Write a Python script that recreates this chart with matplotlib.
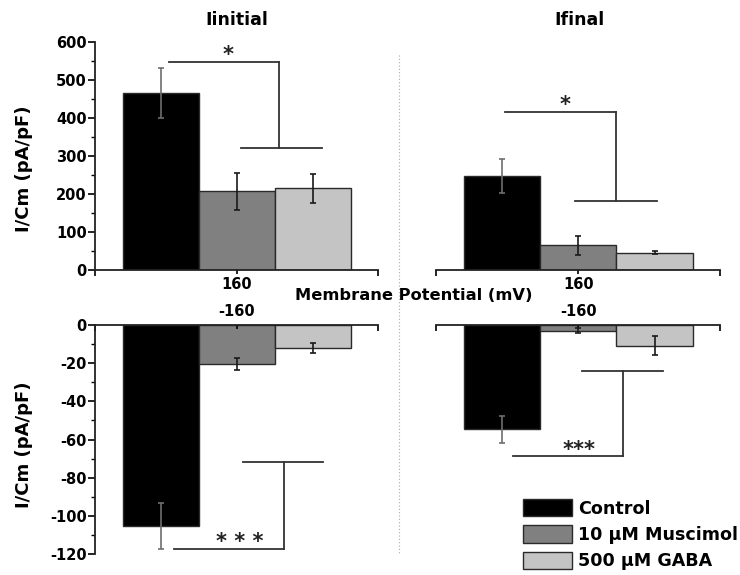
import matplotlib
matplotlib.use("Agg")
import matplotlib.pyplot as plt
from matplotlib.lines import Line2D
from matplotlib.ticker import MultipleLocator, FixedLocator

plt.rcParams['font.family'] = ['DejaVu Sans']
plt.rcParams['font.weight'] = 'bold'
plt.rcParams['axes.unicode_minus'] = False

# Daten
gruppen = ["Control", "10 \u03bcM Muscimol", "500 \u03bcM GABA"]
farben = ["#000000", "#808080", "#c4c4c4"]
fehlerfarben = ["#6e6e6e", "#1a1a1a", "#1a1a1a"]

initial_pos = [466, 207, 215]
initial_pos_err = [65, 48, 38]
final_pos = [247, 65, 46]
final_pos_err = [45, 25, 5]

initial_neg = [-105.2, -20.5, -12.2]
initial_neg_err = [12, 3.1, 2.6]
final_neg = [-54.7, -3.0, -10.8]
final_neg_err = [7.2, 1.2, 5.0]

W, H = 740, 575
fig = plt.figure(figsize=(7.4, 5.75), dpi=100)

def ax_px(l, t, r, b):
    return fig.add_axes([l / W, 1 - b / H, (r - l) / W, (b - t) / H])

xlim = (-0.87, 2.86)
x = [0, 1, 2]

ax_tl = ax_px(95, 42, 378, 270)
ax_tr = ax_px(436, 42, 720, 270)
ax_bl = ax_px(95, 325, 378, 554)
ax_br = ax_px(436, 325, 720, 554)

def balken(ax, werte, fehler):
    bars = ax.bar(x, werte, width=1.0, color=farben, edgecolor="#2a2a2a", linewidth=1.0)
    for xi, v, e, c in zip(x, werte, fehler, fehlerfarben):
        ax.errorbar(xi, v, yerr=e, fmt='none', ecolor=c, elinewidth=1.2, capsize=2.5, capthick=1.2)
    ax.set_xlim(*xlim)
    return bars

bars = balken(ax_tl, initial_pos, initial_pos_err)
balken(ax_tr, final_pos, final_pos_err)
balken(ax_bl, initial_neg, initial_neg_err)
balken(ax_br, final_neg, final_neg_err)

for ax in (ax_tl, ax_tr):
    ax.set_ylim(0, 600)
    for s in ("top", "right"):
        ax.spines[s].set_visible(False)
    ax.tick_params(axis='x', which='major', direction='out', length=3, width=1.2, labelsize=10.5, pad=2)
    ax.tick_params(axis='x', which='minor', direction='out', length=4, width=1.2)
for ax in (ax_bl, ax_br):
    ax.set_ylim(-120, 0)
    for s in ("bottom", "right"):
        ax.spines[s].set_visible(False)
    ax.xaxis.tick_top()
    ax.tick_params(axis='x', which='major', direction='in', length=3, width=1.2, labelsize=10.5, pad=4)
    ax.tick_params(axis='x', which='minor', direction='in', length=4, width=1.2)

for ax in (ax_tr, ax_br):
    ax.spines["left"].set_visible(False)
    ax.set_yticks([])

for ax in (ax_tl, ax_tr, ax_bl, ax_br):
    for s in ax.spines.values():
        s.set_linewidth(1.3)
        s.set_color("#222222")
    ax.set_xticks([1])
    ax.xaxis.set_minor_locator(FixedLocator(list(xlim)))
    ax.patch.set_alpha(0)

ax_tl.set_xticklabels(["160"])
ax_tr.set_xticklabels(["160"])
ax_bl.set_xticklabels(["-160"])
ax_br.set_xticklabels(["-160"])

ax_tl.yaxis.set_major_locator(MultipleLocator(100))
ax_tl.yaxis.set_minor_locator(MultipleLocator(50))
ax_bl.yaxis.set_major_locator(MultipleLocator(20))
ax_bl.yaxis.set_minor_locator(MultipleLocator(10))
for ax in (ax_tl, ax_bl):
    ax.tick_params(axis='y', which='major', length=5, width=1.2, labelsize=10.5, pad=1)
    ax.tick_params(axis='y', which='minor', length=3, width=1.0)

fig.text(24 / W, 1 - 169 / H, "I/Cm (pA/pF)", rotation=90, ha='center', va='center', fontsize=13)
fig.text(24 / W, 1 - 445 / H, "I/Cm (pA/pF)", rotation=90, ha='center', va='center', fontsize=13)

fig.text(237 / W, 1 - 20 / H, "Iinitial", ha='center', va='center', fontsize=12.5)
fig.text(580 / W, 1 - 20 / H, "Ifinal", ha='center', va='center', fontsize=12.5)

# Signifikanz-Klammern
def klammer(ax, x1, x2, y1, xv, y2, x3, x4, text, tx, ty):
    kw = dict(color="#333333", lw=1.3, clip_on=False)
    ax.plot([x1, x2], [y1, y1], **kw)
    ax.plot([xv, xv], [y1, y2], **kw)
    ax.plot([x3, x4], [y2, y2], **kw)
    ax.text(tx, ty, text, ha='center', va='center', fontsize=15, color="#222222")

klammer(ax_tl, 0.10, 1.55, 548, 1.55, 322, 1.05, 2.12, "*", 0.89, 566)
klammer(ax_tr, 0.03, 1.49, 416, 1.49, 182, 0.96, 2.03, "*", 0.83, 434)
klammer(ax_bl, 1.08, 2.14, -71.6, 1.62, -117.6, 0.17, 1.62, "* * *", 1.04, -113.5)
klammer(ax_br, 1.05, 2.11, -24, 1.58, -68.7, 0.14, 1.58, "***", 1.01, -65.5)

fig.text(414 / W, 1 - 296 / H, "Membrane Potential (mV)", ha='center', va='center', fontsize=11.7)

# gepunktete Trennlinie
fig.add_artist(Line2D([399 / W, 399 / W], [1 - 55 / H, 1 - 553 / H],
                      transform=fig.transFigure, color="#aaaaaa", lw=0.8, ls=(0, (1, 2))))

fig.legend(bars, gruppen, loc='upper left', bbox_to_anchor=(523 / W, 1 - 499 / H),
           frameon=False, fontsize=12.6, handlelength=2.8, handleheight=1.14,
           labelspacing=0.44, handletextpad=0.35, borderaxespad=0, borderpad=0)

fig.savefig("out.png", dpi=100)
